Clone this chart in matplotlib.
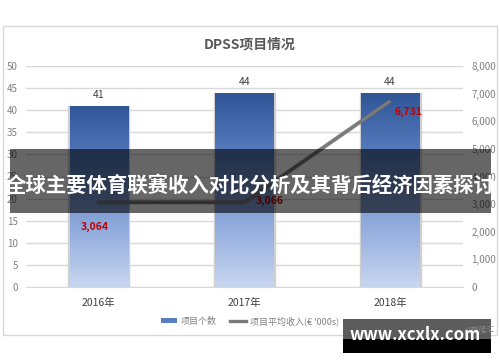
import matplotlib
matplotlib.use("Agg")
import matplotlib.pyplot as plt
import numpy as np
from matplotlib.patches import Rectangle
from matplotlib.lines import Line2D
from matplotlib.patches import Patch
from matplotlib.ticker import FuncFormatter
from matplotlib.colors import LinearSegmentedColormap

plt.rcParams['font.family'] = ['Noto Sans CJK SC', 'DejaVu Sans']

categories = ['2016年', '2017年', '2018年']
project_counts = [41, 44, 44]
avg_income = [3064, 3066, 6731]
left_ticks = [0, 5, 10, 15, 20, 25, 30, 35, 40, 45, 50]
right_ticks = [0, 1000, 2000, 3000, 4000, 5000, 6000, 7000, 8000]

W, H = 500, 362
fig = plt.figure(figsize=(W / 100, H / 100), dpi=100)
fig.patch.set_facecolor('white')

def fx(x): return x / W
def fy(y): return 1 - y / H

# chart border
fig.patches.append(Rectangle((fx(3), fy(335)), fx(494), (335 - 26) / H, transform=fig.transFigure,
                             fill=False, edgecolor='#d9d9d9', linewidth=1))

ax = fig.add_axes([fx(26), fy(287), 437 / W, 221 / H])
x = np.arange(len(categories))
bars = ax.bar(x, project_counts, width=0.4, color='none', edgecolor='none', zorder=2)
grad = np.linspace(0, 1, 256).reshape(-1, 1)
cmap = LinearSegmentedColormap.from_list('b', ['#c8d6f0', '#8ea9db', '#5a7fc0', '#2f5597'])
for b in bars:
    im = ax.imshow(grad, extent=[b.get_x(), b.get_x() + b.get_width(), 0, b.get_height()],
                   origin='lower', aspect='auto', cmap=cmap, zorder=2)
    im.set_clip_path(b)
    ax.add_patch(Rectangle((b.get_x() + b.get_width(), 0), 0.01, b.get_height(), color='#d0d0d0', zorder=1.5))
    ax.add_patch(Rectangle((b.get_x() - 0.01, 0), 0.01, b.get_height(), color='#d0d0d0', zorder=1.5))
ax.set_xlim(-0.5, 2.5)
ax.set_ylim(0, 50)
ax.set_yticks(left_ticks)
ax.yaxis.grid(True, color='#d9d9d9', linewidth=1)
ax.set_axisbelow(True)
for s in ax.spines.values():
    s.set_visible(False)
ax.spines['bottom'].set_visible(True)
ax.spines['bottom'].set_color('#d9d9d9')
ax.tick_params(axis='y', length=0, labelsize=7, labelcolor='#808080', pad=6)
ax.tick_params(axis='x', length=0, labelsize=7.5, labelcolor='#404040', pad=8)
ax.set_xticks(x)
ax.set_xticklabels(categories)
for xi, v in zip(x, project_counts):
    ax.text(xi, v + 1.2, str(v), ha='center', va='bottom', fontsize=7.5, color='#404040')

ax2 = ax.twinx()
ax2.set_ylim(0, 8000)
ax2.set_yticks(right_ticks)
ax2.yaxis.set_major_formatter(FuncFormatter(lambda v, p: f'{int(v):,}'))
ax2.tick_params(axis='y', length=0, labelsize=7, labelcolor='#808080', pad=6)
for s in ax2.spines.values():
    s.set_visible(False)
ax2.plot(x, avg_income, color='#5a5a5a', linewidth=3.2, alpha=0.35, zorder=3)
ax2.plot(x, avg_income, color='#7a7a7a', linewidth=2.4, solid_capstyle='butt', zorder=4)
offsets = [(-3, -18, 'center'), (8, 1, 'left'), (3, -8, 'left')]
for xi, v, (dx, dy, ha) in zip(x, avg_income, offsets):
    ax2.annotate(f'{v:,}', (xi, v), xytext=(dx, dy), textcoords='offset points', ha=ha, va='center',
                 fontsize=7.5, color='#c00000', fontweight='bold')

fig.text(0.5, fy(44), 'DPSS项目情况', ha='center', va='center', fontsize=10, color='#595959', fontweight='bold')

# legend
leg_handles = [Patch(facecolor='#5a7fc0', edgecolor='none'),
               Line2D([0], [0], color='#7a7a7a', linewidth=2.4)]
fig.legend(leg_handles, ['项目个数', '项目平均收入(€ \'000s)'], loc='center', bbox_to_anchor=(0.5, fy(321)),
           ncol=2, frameon=False, fontsize=6.5, labelcolor='#808080', handlelength=1.8,
           handleheight=0.4, columnspacing=1.5, handletextpad=0.4)

# overlay band
fig.patches.append(Rectangle((fx(10), fy(213)), 481 / W, 64 / H, transform=fig.transFigure,
                             facecolor='black', alpha=0.6, edgecolor='none', zorder=10))
fig.text(fx(250), fy(185), '全球主要体育联赛收入对比分析及其背后经济因素探讨', ha='center', va='center',
         fontsize=14.7, color='white', fontweight='bold', zorder=11)

# watermark
fig.patches.append(Rectangle((fx(343), fy(339)), 148 / W, 20 / H, transform=fig.transFigure,
                             facecolor='#4a4a4a', alpha=0.9, edgecolor='none', zorder=10))
fig.patches.append(Rectangle((fx(343), fy(353)), 148 / W, 14 / H, transform=fig.transFigure,
                             facecolor='black', edgecolor='none', zorder=10))
fig.text(fx(465), fy(330), '@格隆汇', ha='left', va='center', fontsize=5.5, color='#888888', zorder=11)
fig.text(fx(415), fy(335), 'www.xcxlx.com', ha='center', va='center', fontsize=12, color='white',
         fontweight='bold', zorder=12)

fig.savefig('out.png', dpi=100)
